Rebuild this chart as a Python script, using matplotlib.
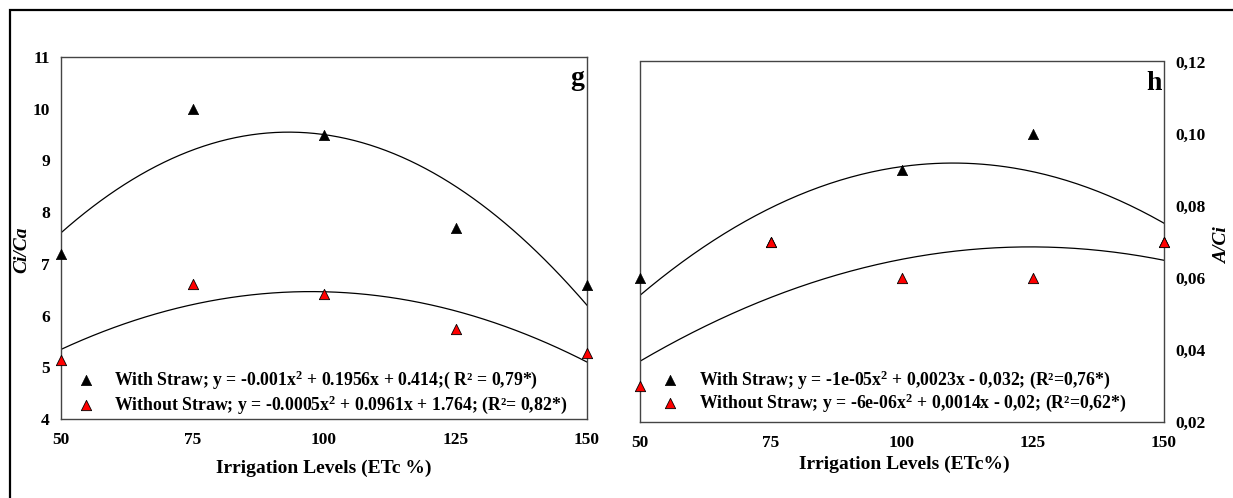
import numpy as np
import matplotlib
matplotlib.use("Agg")
import matplotlib.pyplot as plt
from matplotlib.patches import Rectangle

plt.rcParams['font.family'] = ['Liberation Serif', 'DejaVu Serif']
plt.rcParams['font.weight'] = 'bold'
plt.rcParams['mathtext.fontset'] = 'custom'
plt.rcParams['mathtext.rm'] = 'Liberation Serif:bold'
plt.rcParams['mathtext.it'] = 'Liberation Serif:bold:italic'
plt.rcParams['mathtext.bf'] = 'Liberation Serif:bold'

# ---- data ----
irrigation = [50, 75, 100, 125, 150]

ci_ca_with = [7.2, 10.0, 9.5, 7.7, 6.6]
ci_ca_without = [5.15, 6.62, 6.41, 5.75, 5.28]

a_ci_with = [0.06, 0.07, 0.09, 0.10, 0.07]
a_ci_without = [0.03, 0.07, 0.06, 0.06, 0.07]

g_yticks = [4, 5, 6, 7, 8, 9, 10, 11]
g_yticklabels = ['4', '5', '6', '7', '8', '9', '10', '11']
h_yticks = [0.02, 0.04, 0.06, 0.08, 0.10, 0.12]
h_yticklabels = ['0,02', '0,04', '0,06', '0,08', '0,10', '0,12']
xticks = [50, 75, 100, 125, 150]

g_labels = ['With Straw; y = -0.001x$^{2}$ + 0.1956x + 0.414;( R\u00b2 = 0,79*)',
            'Without Straw; y = -0.0005x$^{2}$ + 0.0961x + 1.764; (R\u00b2= 0,82*)']
h_labels = ['With Straw; y = -1e-05x$^{2}$ + 0,0023x - 0,032; (R\u00b2=0,76*)',
            'Without Straw; y = -6e-06x$^{2}$ + 0,0014x - 0,02; (R\u00b2=0,62*)']

W, H = 1233, 498
fig = plt.figure(figsize=(W / 100, H / 100), dpi=100)

# outer frame
fig.patches.append(Rectangle((10 / W, -0.1), 1.2, (H - 10) / H + 0.1,
                             transform=fig.transFigure, fill=False,
                             edgecolor='black', linewidth=1.6))

ax1 = fig.add_axes([61 / W, (H - 419) / H, 526 / W, 362 / H])
ax2 = fig.add_axes([640 / W, (H - 422) / H, 524 / W, 360.5 / H])

spine_col = '#444444'
tick_fs = 12.5
leg_fs = 12.8


def panel(ax, yw, yo, ylim, yticks, yticklabels, right):
    x = np.array(irrigation, dtype=float)
    xs = np.linspace(50, 150, 200)
    for y in (yw, yo):
        c = np.polyfit(x, y, 2)
        ax.plot(xs, np.polyval(c, xs), color='black', lw=0.9, zorder=2)
    h1 = ax.scatter(x, yw, marker='^', s=55, color='black', zorder=3,
                    clip_on=False, linewidths=0.5)
    h2 = ax.scatter(x, yo, marker='^', s=55, facecolor='#ff0000',
                    edgecolor='black', linewidths=0.6, zorder=4, clip_on=False)
    ax.set_xlim(50, 150)
    ax.set_ylim(*ylim)
    ax.set_xticks(xticks)
    ax.set_xticklabels([str(v) for v in xticks], fontsize=tick_fs, fontweight='bold')
    ax.set_yticks(yticks)
    ax.set_yticklabels(yticklabels, fontsize=tick_fs, fontweight='bold')
    ax.tick_params(length=0, pad=8)
    ax.tick_params(axis='x', pad=9)
    for s in ax.spines.values():
        s.set_color(spine_col)
        s.set_linewidth(1.0)
    if right:
        ax.yaxis.tick_right()
        ax.yaxis.set_label_position('right')
    return h1, h2


leg_prop = {'family': 'Liberation Serif', 'weight': 'bold', 'size': leg_fs}

h1, h2 = panel(ax1, ci_ca_with, ci_ca_without, (4, 11), g_yticks, g_yticklabels, False)
ax1.legend([h1, h2], g_labels, loc='lower left', bbox_to_anchor=(0.017, -0.015),
           frameon=False, handlelength=0.8, handletextpad=1.2, borderpad=0,
           labelspacing=0.12, prop=leg_prop)
ax1.text(0.995, 0.975, 'g', transform=ax1.transAxes, ha='right', va='top',
         fontsize=20, fontweight='bold')
ax1.set_xlabel('Irrigation Levels (ETc %)', fontsize=14, fontweight='bold')
ax1.xaxis.set_label_coords(0.5, -0.113)
ax1.set_ylabel('Ci/Ca', fontsize=14, fontweight='bold', fontstyle='italic')
ax1.yaxis.set_label_coords(-0.059, 0.467)

h3, h4 = panel(ax2, a_ci_with, a_ci_without, (0.02, 0.12), h_yticks, h_yticklabels, True)
ax2.legend([h3, h4], h_labels, loc='lower left', bbox_to_anchor=(0.027, -0.003),
           frameon=False, handlelength=0.8, handletextpad=1.2, borderpad=0,
           labelspacing=0.05, prop=leg_prop)
ax2.text(0.995, 0.975, 'h', transform=ax2.transAxes, ha='right', va='top',
         fontsize=20, fontweight='bold')
ax2.set_xlabel('Irrigation Levels (ETc%)', fontsize=14, fontweight='bold')
ax2.xaxis.set_label_coords(0.505, -0.093)
ax2.set_ylabel('A/Ci', fontsize=14, fontweight='bold', fontstyle='italic')
ax2.yaxis.set_label_coords(1.095, 0.49)

fig.savefig('out.png', dpi=100)
